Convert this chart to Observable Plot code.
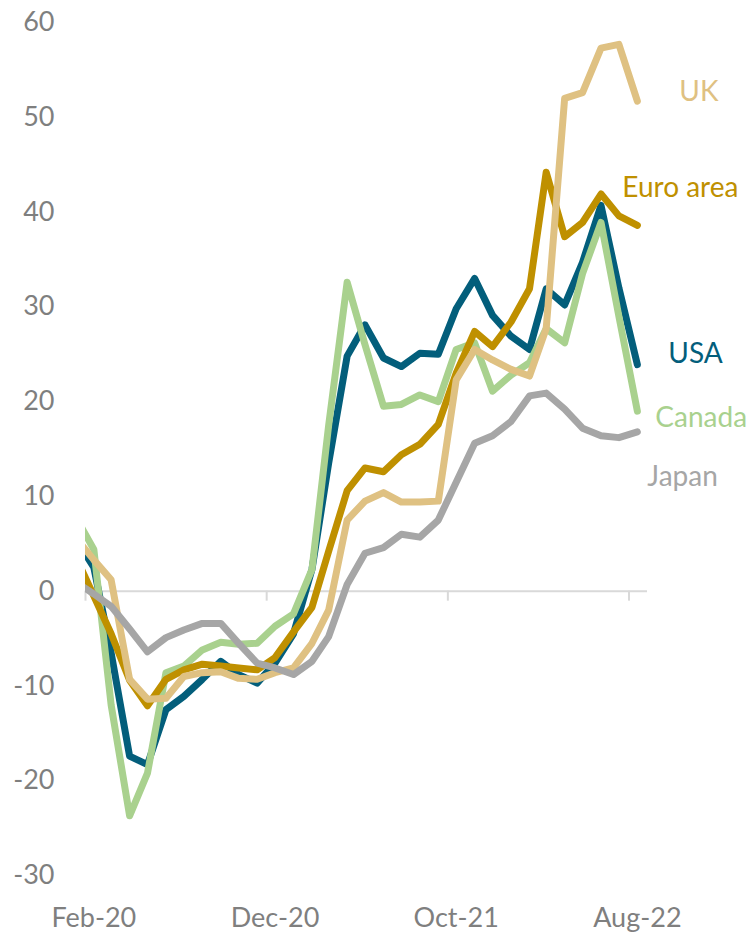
<!DOCTYPE html>
<html>
<head>
<meta charset="utf-8">
<script src="https://cdn.jsdelivr.net/npm/d3@7"></script>
<script src="https://cdn.jsdelivr.net/npm/@observablehq/plot@0.6"></script>
<style>
  html, body { margin: 0; padding: 0; background: #ffffff; }
  #chart svg { display: block; }
</style>
</head>
<body>
<div id="chart"></div>
<script>
// Monthly observations, Jan-20 .. Aug-22 (the Jan-20 point lies left of the axis start and is clipped)
const firstMonth = "Jan-20";
const lastMonth = "Aug-22";

// Series values (index 0 = Jan-20, last = Aug-22)
const usa = [5.6, 2.5, -6.5, -17.4, -18.3, -12.5, -11.1, -9.3, -7.4, -8.8, -9.7, -7.6,
  -4.5, 2.3, 13.5, 24.8, 28.1, 24.6, 23.7, 25.1, 25.0, 29.8, 33.0, 29.1,
  26.9, 25.5, 31.9, 30.2, 34.7, 40.7, 32.0, 23.9];
const canada = [7.9, 4.4, -12.0, -23.7, -19.2, -8.6, -7.9, -6.2, -5.4, -5.6, -5.5, -3.7,
  -2.4, 2.3, 17.5, 32.6, 26.0, 19.5, 19.7, 20.7, 20.0, 25.5, 26.2, 21.1,
  22.8, 24.1, 27.7, 26.2, 33.5, 38.9, 29.0, 19.0];
const euroArea = [3.7, -0.5, -4.5, -9.4, -12.1, -9.3, -8.3, -7.7, -7.9, -8.1, -8.3, -7.0,
  -4.3, -1.7, 4.2, 10.6, 13.0, 12.6, 14.4, 15.5, 17.6, 23.0, 27.4, 25.8,
  28.4, 31.9, 44.2, 37.4, 38.9, 41.9, 39.6, 38.6];
const uk = [5.7, 3.3, 1.2, -9.3, -11.4, -11.3, -9.0, -8.6, -8.5, -9.2, -9.3, -8.6,
  -8.1, -5.5, -2.0, 7.5, 9.5, 10.4, 9.4, 9.4, 9.5, 22.3, 25.5, 24.4,
  23.4, 22.7, 27.7, 52.0, 52.6, 57.3, 57.7, 51.7];
const japan = [1.0, -0.3, -1.6, -4.0, -6.4, -4.9, -4.1, -3.4, -3.4, -5.5, -7.6, -8.1,
  -8.8, -7.4, -4.8, 0.7, 4.0, 4.6, 6.0, 5.7, 7.5, 11.5, 15.6, 16.4,
  17.9, 20.6, 20.9, 19.2, 17.2, 16.4, 16.2, 16.8];

const xTickLabels = ["Feb-20", "Dec-20", "Oct-21", "Aug-22"];
const yTicks = [-30, -20, -10, 0, 10, 20, 30, 40, 50, 60];
const axisStart = "Feb-20";
const axisEnd = "Sep-22";

const parseMonth = d3.utcParse("%b-%y");
const fmtMonth = d3.utcFormat("%b-%y");
const midMonth = d => d3.utcDay.offset(d, 14);

const monthStarts = d3.utcMonth.range(parseMonth(firstMonth), d3.utcMonth.offset(parseMonth(lastMonth), 1));
const dates = monthStarts.map(midMonth);

const series = [
  {name: "USA", values: usa, color: "#035e7b", dx: 31, dy: -11},
  {name: "Canada", values: canada, color: "#a9d18e", dx: 18, dy: 7},
  {name: "Euro area", values: euroArea, color: "#bf9000", dx: -15, dy: -37},
  {name: "UK", values: uk, color: "#dfc182", dx: 42, dy: -9},
  {name: "Japan", values: japan, color: "#a6a6a6", dx: 10, dy: 45}
];

const lineMarks = series.map(s =>
  Plot.line(s.values.map((v, i) => ({date: dates[i], value: v})), {
    x: "date", y: "value", stroke: s.color, strokeWidth: 7,
    strokeLinecap: "round", strokeLinejoin: "round", clip: true
  })
);

const labelMarks = series.map(s =>
  Plot.text([{date: dates[dates.length - 1], value: s.values[s.values.length - 1], name: s.name}], {
    x: "date", y: "value", text: "name", fill: s.color, textAnchor: "start",
    dx: s.dx, dy: s.dy, fontSize: 28
  })
);

const tickBoundaries = xTickLabels.map(parseMonth);
const tickLabelPos = tickBoundaries.map(midMonth);

const chart = Plot.plot({
  width: 755,
  height: 932,
  marginLeft: 85,
  marginRight: 108,
  marginTop: 22,
  marginBottom: 57,
  x: {type: "utc", domain: [parseMonth(axisStart), parseMonth(axisEnd)]},
  y: {domain: [-30, 60]},
  style: {fontFamily: "Lato, 'Open Sans', sans-serif", background: "#ffffff", overflow: "visible"},
  marks: [
    Plot.axisY({ticks: yTicks, tickSize: 0, tickPadding: 31, fontSize: 27, color: "#7f7f7f", label: null, tickFormat: d => `${d}`}),
    Plot.axisX({ticks: tickLabelPos, tickSize: 0, tickPadding: 32, tickFormat: fmtMonth, fontSize: 27, color: "#7f7f7f", label: null}),
    Plot.ruleY([0], {stroke: "#d9d9d9", strokeWidth: 2}),
    Plot.ruleX(tickBoundaries, {x: d => d, y1: 0, y2: 0, insetBottom: -10, stroke: "#d9d9d9", strokeWidth: 2}),
    ...lineMarks,
    ...labelMarks
  ]
});

document.getElementById("chart").appendChild(chart);
</script>
</body>
</html>
